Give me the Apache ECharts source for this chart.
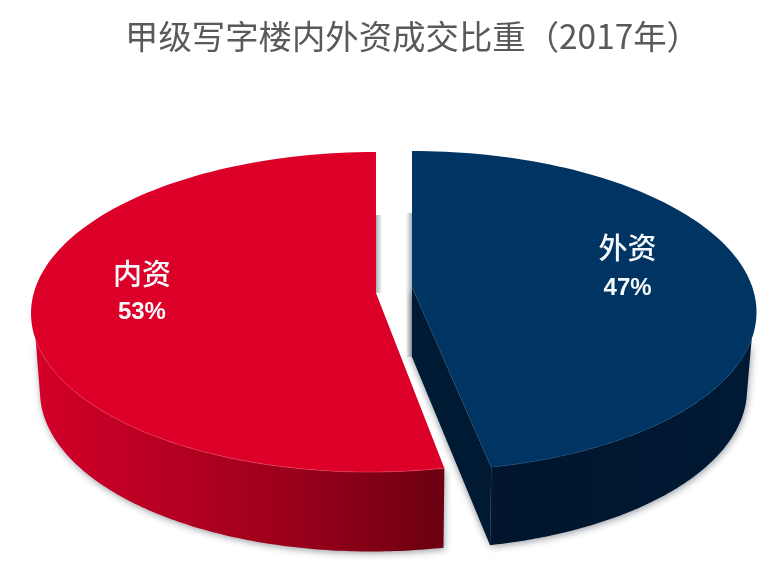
<!DOCTYPE html>
<html>
<head>
<meta charset="utf-8">
<style>html,body{margin:0;padding:0;background:#fff}#c{width:783px;height:583px}</style>
<script src="https://cdn.jsdelivr.net/npm/echarts@6/dist/echarts.min.js"></script>
</head>
<body>
<div id="c"></div>
<script>
const titleText = '甲级写字楼内外资成交比重（2017年）';
const categories = ['外资', '内资'];
const shares = [47, 53];

// Projection of each exploded slice: drawing layout only, no data.
const K = 0.86;
const slices = [
  { dir: 1, ax: 412, ay: 287, top: { cx: 412, cy: 311, rx: 342, ry: 160, lean: 2.5 }, bot: { cx: 412, cy: 388, rx: 332, ry: 161, lean: 3 }, depth: 70,
    labelT: 66, labelR: 0.69, topFill: '#003463', rim: '#0f4675', cut: true,
    wall: [[0, '#00152c'], [0.5, '#001730'], [1, '#001a35']], shadow: [213, 357], nameDy: -18, valueDy: 22 },
  { dir: -1, ax: 376, ay: 293, top: { cx: 376, cy: 312, rx: 342, ry: 160, lean: -3 }, bot: { cx: 376, cy: 390, rx: 333.5, ry: 161.5, lean: -2.5 }, depth: 0,
    labelT: 80, labelR: 0.695, topFill: '#dc0029', rim: '#f23c5c', cut: false,
    wall: [[0, '#d30029'], [0.3, '#b80022'], [0.65, '#98001a'], [1, '#6a0010']], shadow: [215, 293], nameDy: -19, valueDy: 20 }
];

const rad = d => d * Math.PI / 180;
const warp = th => 2 * Math.atan2(K * Math.sin(rad(th) / 2), Math.cos(rad(th) / 2));
function pt(e, dir, t) {
  return [e.cx + dir * e.rx * Math.sin(t) + e.lean * (1 - Math.cos(t)), e.cy - e.ry * Math.cos(t)];
}
function arc(e, dir, t0, t1) {
  const n = 120, a = [];
  for (let i = 0; i <= n; i++) a.push(pt(e, dir, t0 + (t1 - t0) * i / n));
  return a;
}

function renderItem(params, api) {
  const i = params.dataIndex, s = slices[i];
  const total = shares.reduce((p, c) => p + c, 0);
  const sweep = api.value(1) / total * 360;
  const tEnd = warp(sweep);
  const topArc = arc(s.top, s.dir, 0, tEnd);
  const children = [];
  const sx = s.dir > 0 ? s.ax - 6 : s.ax;
  // soft contact shade beside the straight edge
  children.push({ type: 'rect', shape: { x: sx, y: s.shadow[0], width: 6, height: s.shadow[1] - s.shadow[0] },
    style: { fill: new echarts.graphic.LinearGradient(s.dir > 0 ? 0 : 1, 0, s.dir > 0 ? 1 : 0, 0, [
      { offset: 0, color: 'rgba(120,135,145,0.03)' }, { offset: 1, color: 'rgba(110,125,135,0.62)' }]) } });
  const wallPts = arc(s.top, s.dir, rad(100), tEnd).concat(arc(s.bot, s.dir, tEnd, rad(92)));
  const wl = s.wall.map(w => ({ offset: w[0], color: w[1] }));
  children.push({ type: 'polygon', shape: { points: wallPts },
    style: { fill: new echarts.graphic.LinearGradient(0, 0, 1, 0, wl),
      shadowBlur: 7, shadowColor: 'rgba(40,50,60,0.45)', shadowOffsetX: 1, shadowOffsetY: 2 } });
  if (s.cut) {
    const e = arc(s.bot, s.dir, tEnd, tEnd)[0];
    children.push({ type: 'polygon',
      shape: { points: [[s.ax, s.ay], [s.ax, s.ay + s.depth], e, topArc[topArc.length - 1]] },
      style: { fill: '#001a33', shadowBlur: 6, shadowColor: 'rgba(40,50,60,0.45)', shadowOffsetX: -1, shadowOffsetY: 1 } });
  }
  children.push({ type: 'polygon', shape: { points: [[s.ax, s.ay]].concat(topArc) }, style: { fill: s.topFill } });
  children.push({ type: 'polyline', shape: { points: arc(s.top, s.dir, rad(100), tEnd) },
    style: { fill: null, stroke: s.rim, lineWidth: 1, opacity: 0.6 } });
  const lp = pt({ cx: s.top.cx, cy: s.top.cy, rx: s.top.rx * s.labelR, ry: s.top.ry * s.labelR, lean: 0 }, s.dir, rad(s.labelT));
  children.push({ type: 'text', style: { x: lp[0], y: lp[1] + s.nameDy, text: api.value(0), align: 'center', verticalAlign: 'middle',
    fill: '#f6f9fb', font: '500 29px "Noto Sans CJK SC"' } });
  children.push({ type: 'text', style: { x: lp[0], y: lp[1] + s.valueDy, text: api.value(1) + '%', align: 'center', verticalAlign: 'middle',
    fill: '#f6f9fb', font: 'bold 24px "Liberation Sans"' } });
  return { type: 'group', children };
}

const chart = echarts.init(document.getElementById('c'), null, { renderer: 'canvas' });
chart.setOption({
  animation: false,
  backgroundColor: '#ffffff',
  title: { text: titleText, left: 120, top: 15,
    textStyle: { color: '#595959', fontSize: 33.4, fontWeight: 'normal', fontFamily: '"Noto Sans CJK SC"' } },
  series: [{ type: 'custom', coordinateSystem: 'none', renderItem,
    data: categories.map((c, i) => [c, shares[i]]) }]
});
</script>
</body>
</html>
